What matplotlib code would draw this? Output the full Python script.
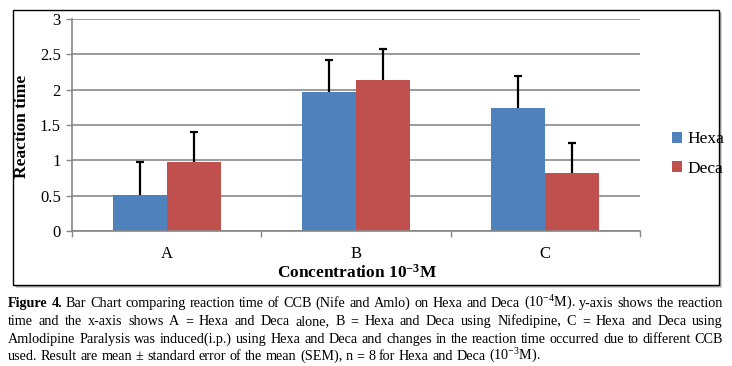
import matplotlib
matplotlib.use('Agg')
import numpy as np
import matplotlib.pyplot as plt
import matplotlib.patches as patches

plt.rcParams['font.family'] = ['Liberation Serif', 'DejaVu Serif']
plt.rcParams['mathtext.fontset'] = 'custom'
plt.rcParams['mathtext.rm'] = 'Liberation Serif'
plt.rcParams['mathtext.it'] = 'Liberation Serif:italic'
plt.rcParams['mathtext.bf'] = 'Liberation Serif:bold'

# data
categories = ['A', 'B', 'C']
series = ['Hexa', 'Deca']
hexa = [0.51, 1.97, 1.74]
deca = [0.98, 2.14, 0.82]
hexa_err = [0.46, 0.45, 0.46]
deca_err = [0.42, 0.43, 0.43]
yticks = [0, 0.5, 1, 1.5, 2, 2.5, 3]
ytick_labels = ['0', '0.5', '1', '1.5', '2', '2.5', '3']

W, H = 732, 366
fig = plt.figure(figsize=(W / 100, H / 100), dpi=100)

# outer chart frame with a little drop shadow
bx0, by0, bx1, by1 = 13, 10, 719, 285
for k, a in [(3, 0.25), (2, 0.35), (1, 0.5)]:
    fig.patches.append(patches.Rectangle(((bx0 + k) / W, 1 - (by1 + k) / H), (bx1 - bx0) / W, (by1 - by0) / H,
                                         transform=fig.transFigure, facecolor='#555555', alpha=a,
                                         edgecolor='none', zorder=0))
fig.patches.append(patches.Rectangle((bx0 / W, 1 - by1 / H), (bx1 - bx0) / W, (by1 - by0) / H,
                                     transform=fig.transFigure, facecolor='white',
                                     edgecolor='black', lw=1.0, zorder=1))

# plot area
left, right, top, bottom = 72, 640, 19, 231
ax = fig.add_axes([left / W, 1 - bottom / H, (right - left) / W, (bottom - top) / H])
ax.set_zorder(2)
ax.patch.set_alpha(0)

x = np.arange(len(categories))
w = 0.285
zeros = [0] * len(categories)
ekw = dict(ecolor='black', elinewidth=1.6, capsize=3, capthick=1.6)
b1 = ax.bar(x - w / 2, hexa, w, color='#4F81BD', label=series[0], yerr=[zeros, hexa_err], error_kw=ekw)
b2 = ax.bar(x + w / 2, deca, w, color='#C0504D', label=series[1], yerr=[zeros, deca_err], error_kw=ekw)

# only the upper cap is wanted (Excel "plus" error bars)
for bc, vals in [(b1, hexa), (b2, deca)]:
    caps = bc.errorbar.lines[1]
    for cl in caps:
        if np.allclose(cl.get_ydata(), vals):
            cl.set_visible(False)

ax.set_xlim(-0.5, 2.5)
ax.set_ylim(0, 3)
ax.set_yticks(yticks)
ax.set_yticklabels(ytick_labels, fontsize=12)
ax.set_xticks(x)
ax.set_xticklabels(categories, fontsize=12)
ax.set_xticks(np.arange(-0.5, 3, 1), minor=True)
ax.tick_params(axis='x', which='major', length=0, pad=11)
ax.tick_params(axis='x', which='minor', length=4, color='#868686', width=1)
ax.tick_params(axis='y', length=4, color='#868686', width=1, pad=4)

ax.yaxis.grid(True, color='#8a8a8a', lw=1.2)
ax.set_axisbelow(True)
for s in ['top', 'right']:
    ax.spines[s].set_visible(False)
for s in ['left', 'bottom']:
    ax.spines[s].set_color('#868686')
    ax.spines[s].set_linewidth(1.2)

fig.text(22 / W, 1 - 126 / H, 'Reaction time', rotation=90, fontsize=12.5, fontweight='bold',
         ha='center', va='center')
fig.text(357 / W, 1 - 273 / H, r'Concentration 10$^{\mathbf{-3}}$M', fontsize=12.5, fontweight='bold',
         ha='center', va='center')

ax.legend(loc='center left', bbox_to_anchor=(663 / W, 1 - 154 / H), bbox_transform=fig.transFigure,
          frameon=False, fontsize=12.5, handlelength=0.6, handleheight=0.6, handletextpad=0.3,
          labelspacing=0.75, borderpad=0)

# caption, justified like the source (first two words bold)
caption = [
    "Figure 4. Bar Chart comparing reaction time of CCB (Nife and Amlo) on Hexa and Deca (10$^{-4}$M). y-axis shows the reaction",
    "time and the x-axis shows A = Hexa and Deca alone, B = Hexa and Deca using Nifedipine, C = Hexa and Deca using",
    "Amlodipine Paralysis was induced(i.p.) using Hexa and Deca and changes in the reaction time occurred due to different CCB",
    "used. Result are mean \u00b1 standard error of the mean (SEM), n = 8 for Hexa and Deca (10$^{-3}$M).",
]
line_y = [307, 325, 343, 360]
cx0, cx1 = 8, 723

renderer = fig.canvas.get_renderer()

lines = []
for i, line in enumerate(caption):
    lines.append([(wd, i == 0 and j < 2) for j, wd in enumerate(line.split(' '))])


def measure(items, size):
    ws = []
    for wd, b in items:
        t = fig.text(0, 0, wd, fontsize=size, fontweight='bold' if b else 'normal')
        ws.append(t.get_window_extent(renderer).width)
        t.remove()
    return ws


base = 11
t1 = fig.text(0, 0, 'a a', fontsize=base)
t2 = fig.text(0, 0, 'aa', fontsize=base)
space = t1.get_window_extent(renderer).width - t2.get_window_extent(renderer).width
t1.remove()
t2.remove()
ratio = 0
for items in lines[:3]:
    ws = measure(items, base)
    nat = sum(ws) + space * (len(ws) - 1)
    ratio = max(ratio, nat / (cx1 - cx0))
size = base / ratio * 0.99

for i, items in enumerate(lines):
    ws = measure(items, size)
    if i < 3:
        gap = ((cx1 - cx0) - sum(ws)) / (len(ws) - 1)
    else:
        gap = space * size / base
    xpos = cx0
    for (wd, b), wdt in zip(items, ws):
        fig.text(xpos / W, 1 - line_y[i] / H, wd, fontsize=size, fontweight='bold' if b else 'normal',
                 ha='left', va='baseline')
        xpos += wdt + gap

fig.savefig('out.png', dpi=100)
